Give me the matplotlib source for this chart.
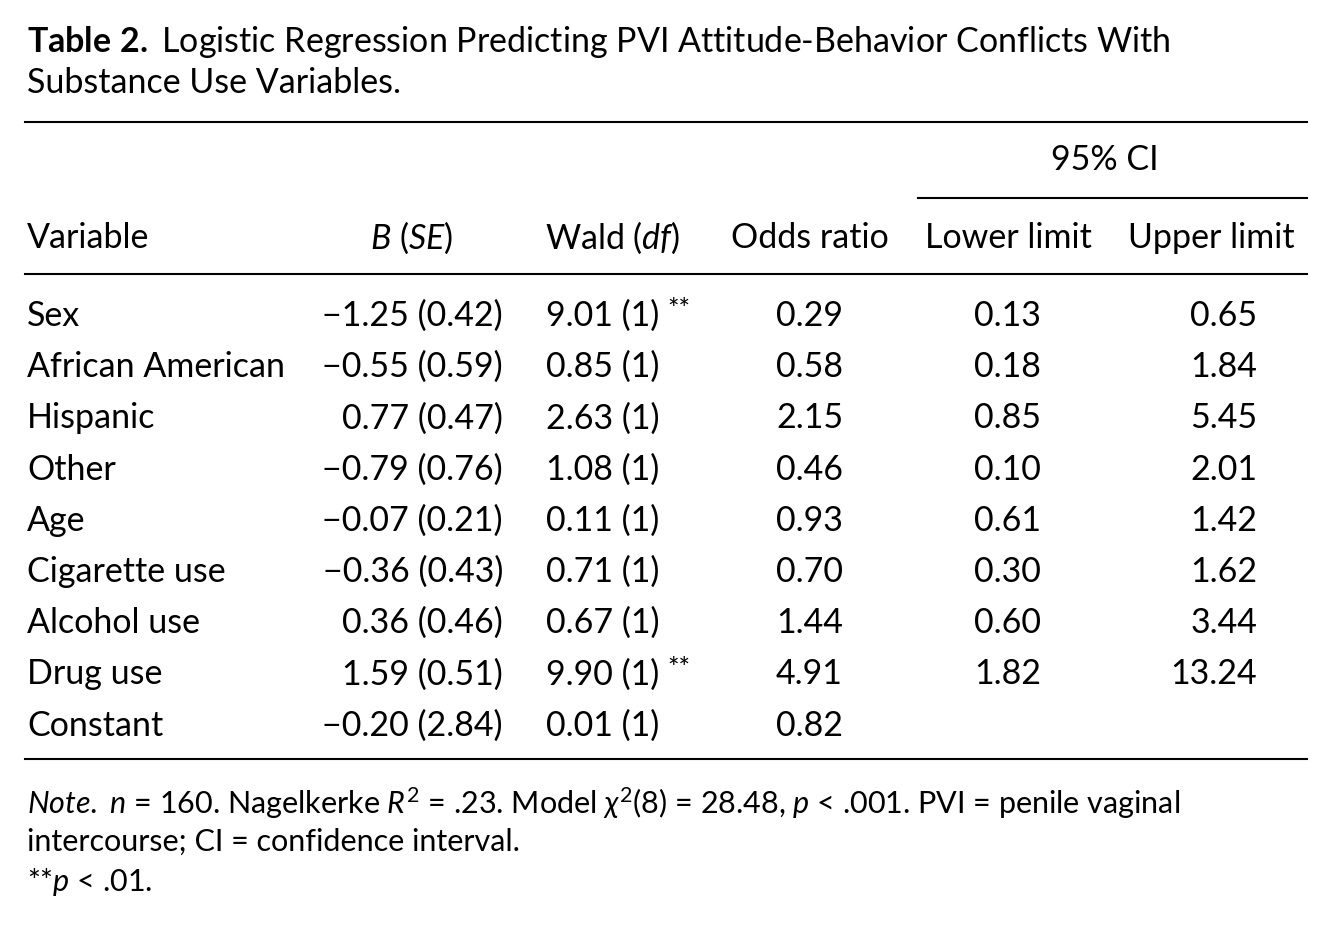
import matplotlib
matplotlib.use('Agg')
import matplotlib.pyplot as plt

plt.rcParams['font.family'] = ['Lato', 'DejaVu Sans']
plt.rcParams['mathtext.fontset'] = 'custom'
plt.rcParams['mathtext.rm'] = 'Lato'
plt.rcParams['mathtext.it'] = 'Lato:italic'
plt.rcParams['mathtext.bf'] = 'Lato:bold'

variables = ['Sex', 'African American', 'Hispanic', 'Other', 'Age',
             'Cigarette use', 'Alcohol use', 'Drug use', 'Constant']
b_coef = [-1.25, -0.55, 0.77, -0.79, -0.07, -0.36, 0.36, 1.59, -0.20]
b_se = [0.42, 0.59, 0.47, 0.76, 0.21, 0.43, 0.46, 0.51, 2.84]
wald = [9.01, 0.85, 2.63, 1.08, 0.11, 0.71, 0.67, 9.90, 0.01]
wald_df = [1, 1, 1, 1, 1, 1, 1, 1, 1]
signif = ['**', '', '', '', '', '', '', '**', '']
odds = [0.29, 0.58, 2.15, 0.46, 0.93, 0.70, 1.44, 4.91, 0.82]
lower = [0.13, 0.18, 0.85, 0.10, 0.61, 0.30, 0.60, 1.82, None]
upper = [0.65, 1.84, 5.45, 2.01, 1.42, 1.62, 3.44, 13.24, None]

W, H = 1332, 926
fig = plt.figure(figsize=(W / 100, H / 100), dpi=100)
ax = fig.add_axes([0, 0, 1, 1])
ax.set_xlim(0, W)
ax.set_ylim(H, 0)
ax.axis('off')

fs = 24.5
k = 'black'

# title
ax.text(27, 42, r'$\mathbf{Table\ 2.}$ Logistic Regression Predicting PVI Attitude-Behavior Conflicts With',
        fontsize=fs, va='center', color=k)
ax.text(27, 83, 'Substance Use Variables.', fontsize=fs, va='center', color=k)

# rules
ax.plot([25, 1307], [122, 122], color=k, lw=1.5)
ax.plot([918, 1307], [198, 198], color=k, lw=1.5)
ax.plot([25, 1307], [274, 274], color=k, lw=1.5)
ax.plot([25, 1307], [759, 759], color=k, lw=1.5)

# headers
ax.text(1105, 160, '95% CI', fontsize=fs, ha='center', va='center')
hy = 238
ax.text(27, hy, 'Variable', fontsize=fs, va='center')
ax.text(412, hy, r'$\mathit{B}$ ($\mathit{SE}$)', fontsize=fs, ha='center', va='center')
ax.text(613, hy, r'Wald ($\mathit{df}$)', fontsize=fs, ha='center', va='center')
ax.text(810, hy, 'Odds ratio', fontsize=fs, ha='center', va='center')
ax.text(1008, hy, 'Lower limit', fontsize=fs, ha='center', va='center')
ax.text(1211, hy, 'Upper limit', fontsize=fs, ha='center', va='center')

# rows
y0, dy = 316, 51.2
for i, v in enumerate(variables):
    y = y0 + i * dy
    ax.text(27, y, v, fontsize=fs, va='center')
    ax.text(503, y, f'{b_coef[i]:.2f} ({b_se[i]:.2f})'.replace('-', '\u2212'),
            fontsize=fs, ha='right', va='center')
    ax.text(546, y, f'{wald[i]:.2f} ({wald_df[i]})', fontsize=fs, va='center')
    if signif[i]:
        ax.text(667, y - 5, signif[i], fontsize=fs - 5, va='center')
    ax.text(843, y, f'{odds[i]:.2f}', fontsize=fs, ha='right', va='center')
    if lower[i] is not None:
        ax.text(1041, y, f'{lower[i]:.2f}', fontsize=fs, ha='right', va='center')
        ax.text(1257, y, f'{upper[i]:.2f}', fontsize=fs, ha='right', va='center')

# note
nfs = 22
ax.text(27, 803, r'$\mathit{Note.}$ $\mathit{n}$ = 160. Nagelkerke $\mathit{R}^2$ = .23. '
        r'Model $\chi^2$(8) = 28.48, $\mathit{p}$ < .001. PVI = penile vaginal',
        fontsize=nfs, va='center')
ax.text(27, 842, 'intercourse; CI = confidence interval.', fontsize=nfs, va='center')
ax.text(27, 882, r'**$\mathit{p}$ < .01.', fontsize=nfs, va='center')

fig.savefig('out.png', dpi=100, facecolor='white')
